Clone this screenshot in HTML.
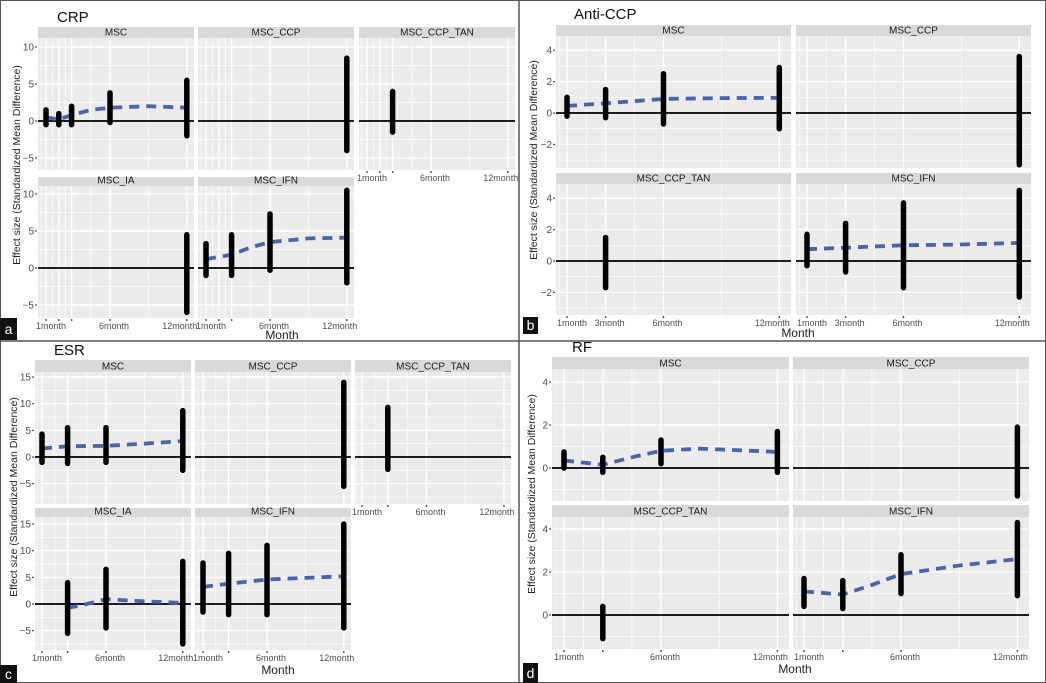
<!DOCTYPE html>
<html><head><meta charset="utf-8"><style>
html,body{margin:0;padding:0;background:#fff;}
svg{display:block;font-family:"Liberation Sans",sans-serif;}
</style></head><body>
<svg id="s" width="1046" height="683" viewBox="0 0 1046 683" xmlns="http://www.w3.org/2000/svg">
<rect x="0.5" y="0.5" width="1045" height="682" fill="#fff" stroke="#555" stroke-width="1"/>
<line x1="519" y1="0" x2="519" y2="683" stroke="#555" stroke-width="1.5"/>
<line x1="0" y1="341" x2="1046" y2="341" stroke="#555" stroke-width="1.5"/>
<text x="57" y="22" font-size="15" fill="#111">CRP</text>
<text x="574" y="19" font-size="15" fill="#111">Anti-CCP</text>
<text x="54" y="355" font-size="15" fill="#111">ESR</text>
<text x="572" y="352" font-size="15" fill="#111">RF</text>
<text transform="translate(20,165) rotate(-90)" text-anchor="middle" font-size="10.5" fill="#222">Effect size (Standardized Mean Difference)</text>
<text transform="translate(537,160) rotate(-90)" text-anchor="middle" font-size="10.5" fill="#222">Effect size (Standardized Mean Difference)</text>
<text transform="translate(17,497) rotate(-90)" text-anchor="middle" font-size="10.5" fill="#222">Effect size (Standardized Mean Difference)</text>
<text transform="translate(535,494) rotate(-90)" text-anchor="middle" font-size="10.5" fill="#222">Effect size (Standardized Mean Difference)</text>
<text x="282" y="339" text-anchor="middle" font-size="12" fill="#222">Month</text>
<text x="798" y="337" text-anchor="middle" font-size="12" fill="#222">Month</text>
<text x="278" y="674" text-anchor="middle" font-size="12" fill="#222">Month</text>
<text x="795" y="673" text-anchor="middle" font-size="12" fill="#222">Month</text>
<rect x="0" y="318" width="17" height="22" fill="#111"/><text x="8.5" y="334" text-anchor="middle" font-size="14" fill="#fff">a</text>
<rect x="523" y="317" width="15" height="17" fill="#111"/><text x="530.5" y="330" text-anchor="middle" font-size="14" fill="#fff">b</text>
<rect x="0" y="665" width="17" height="18" fill="#111"/><text x="8.5" y="679" text-anchor="middle" font-size="14" fill="#fff">c</text>
<rect x="523" y="663" width="15" height="20" fill="#111"/><text x="530.5" y="678" text-anchor="middle" font-size="14" fill="#fff">d</text>
<g id="g"></g>
</svg>
<script>
var NS="http://www.w3.org/2000/svg",G=document.getElementById("g");
function el(t,a,txt){var e=document.createElementNS(NS,t);for(var k in a)e.setAttribute(k,a[k]);if(txt!==undefined)e.textContent=txt;G.appendChild(e);return e;}
function panel(p){
  var px=function(m){return p.xa+(m-1)*p.xs;},py=function(v){return p.ya-v*p.ys;};
  el("rect",{x:p.x0,y:p.sy,width:p.x1-p.x0,height:p.y0-p.sy,fill:"#d9d9d9"});
  el("text",{x:(p.x0+p.x1)/2,y:p.y0-2.5,"text-anchor":"middle","font-size":"10","fill":"#1a1a1a"},p.name);
  el("rect",{x:p.x0,y:p.y0,width:p.x1-p.x0,height:p.y1-p.y0,fill:"#ebebeb"});
  var yt=p.yt,step=yt[1]-yt[0];
  for(var v=yt[0]-step*2;v<=yt[yt.length-1]+step*2;v+=step/2){var y=py(v);if(y<p.y0||y>p.y1)continue;
    var maj=Math.abs((v-yt[0])/step-Math.round((v-yt[0])/step))<0.01;
    el("line",{x1:p.x0,x2:p.x1,y1:y,y2:y,stroke:"#fff","stroke-width":maj?1.3:0.7});}
  var xt=p.xt,xm=[];
  for(var i=0;i<xt.length-1;i++)xm.push((xt[i]+xt[i+1])/2);
  xm.push(xt[0]-0.4);
  xm.forEach(function(m){var x=px(m);if(x>p.x0&&x<p.x1)el("line",{x1:x,x2:x,y1:p.y0,y2:p.y1,stroke:"#fff","stroke-width":0.7});});
  xt.forEach(function(m){var x=px(m);el("line",{x1:x,x2:x,y1:p.y0,y2:p.y1,stroke:"#fff","stroke-width":1.3});});
  el("line",{x1:p.x0,x2:p.x1,y1:py(0),y2:py(0),stroke:"#000","stroke-width":1.8});
  if(p.line){var d="";p.line.forEach(function(q,i){d+=(i?"L":"M")+px(q[0]).toFixed(1)+","+py(q[1]).toFixed(1);});
    el("path",{d:d,fill:"none",stroke:"#4466b0","stroke-width":3.8,"stroke-dasharray":"10,7"});}
  (p.bars||[]).forEach(function(b){el("line",{x1:px(b[0]),x2:px(b[0]),y1:py(b[1]),y2:py(b[2]),stroke:"#000","stroke-width":5.5,"stroke-linecap":"round"});});
  if(p.showY){yt.forEach(function(v){var y=py(v);if(y<p.y0||y>p.y1)return;
    el("text",{x:p.x0-4,y:y+3.5,"text-anchor":"end","font-size":"10",fill:"#4d4d4d"},v<0?"\u2212"+(-v):""+v);
    el("line",{x1:p.x0-3,x2:p.x0-1,y1:y,y2:y,stroke:"#4d4d4d","stroke-width":1.2});});}
  if(p.showX){xt.forEach(function(m){var x=px(m);el("line",{x1:x,x2:x,y1:p.y1+1,y2:p.y1+3,stroke:"#4d4d4d","stroke-width":1.4});});
    (p.xl||[]).forEach(function(l){var x=px(l[0]);var off=l[0]==12?-7:(l[0]==1?5:4);
      el("text",{x:x+off,y:p.y1+11,"text-anchor":"middle","font-size":"9","fill":"#4d4d4d"},l[1]);});}
}
var xlA=[[1,"1month"],[6,"6month"],[12,"12month"]],xlB=[[1,"1month"],[3,"3month"],[6,"6month"],[12,"12month"]];
var A={xs:12.8,yt:[-5,0,5,10],ys:7.4,xt:[1,2,3,6,12],xl:xlA};
function mk(base,o){var r={};for(var k in base)r[k]=base[k];for(var k in o)r[k]=o[k];return r;}
panel(mk(A,{name:"MSC",x0:38,x1:194,sy:27,y0:38,y1:170,xa:46,ya:121,showY:1,
 bars:[[1,-0.5,1.5],[2,-0.5,1],[3,-0.5,2],[6,-0.2,3.8],[12,-2,5.5]],
 line:[[1,0.5],[2,0.2],[3,0.8],[4.5,1.5],[6,1.8],[9,2],[12,1.8]]}));
panel(mk(A,{name:"MSC_CCP",x0:198,x1:354,sy:27,y0:38,y1:170,xa:206,ya:121,bars:[[12,-4,8.5]]}));
panel(mk(A,{name:"MSC_CCP_TAN",x0:359,x1:515,sy:27,y0:38,y1:170,xa:367,ya:121,bars:[[3,-1.5,4]],showX:1}));
panel(mk(A,{name:"MSC_IA",x0:38,x1:194,sy:177,y0:186,y1:318,xa:46,ya:268,showY:1,showX:1,bars:[[12,-6,4.5]]}));
panel(mk(A,{name:"MSC_IFN",x0:198,x1:354,sy:177,y0:186,y1:318,xa:206,ya:268,showX:1,
 bars:[[1,-1,3.3],[3,-1,4.5],[6,-0.3,7.3],[12,-2,10.5]],
 line:[[1,1.2],[2,1.5],[3,1.8],[4.5,2.8],[6,3.5],[9,4],[12,4.1]]}));
var B={xs:19.3,yt:[-2,0,2,4],ys:15.7,xt:[1,3,6,12],xl:xlB};
panel(mk(B,{name:"MSC",x0:556,x1:791,sy:25,y0:36,y1:168,xa:567,ya:113,showY:1,
 bars:[[1,-0.2,1],[3,-0.3,1.5],[6,-0.7,2.5],[12,-1,2.9]],
 line:[[1,0.45],[3,0.62],[5,0.8],[6,0.9],[9,0.95],[12,0.97]]}));
panel(mk(B,{name:"MSC_CCP",x0:796,x1:1031,sy:25,y0:36,y1:168,xa:807,ya:113,bars:[[12,-3.3,3.6]]}));
panel(mk(B,{name:"MSC_CCP_TAN",x0:556,x1:791,sy:173,y0:184,y1:315,xa:567,ya:261,showY:1,showX:1,bars:[[3,-1.7,1.5]]}));
panel(mk(B,{name:"MSC_IFN",x0:796,x1:1031,sy:173,y0:184,y1:315,xa:807,ya:261,showX:1,
 bars:[[1,-0.3,1.7],[3,-0.7,2.4],[6,-1.7,3.7],[12,-2.3,4.5]],
 line:[[1,0.75],[3,0.85],[6,1],[9,1.05],[12,1.15]]}));
var C={xs:12.8,yt:[-5,0,5,10,15],ys:5.33,xt:[1,3,6,12],xl:xlA};
panel(mk(C,{name:"MSC",x0:35,x1:191,sy:360,y0:372,y1:504,xa:42,ya:457,showY:1,
 bars:[[1,-1,4.3],[3,-1.2,5.5],[6,-1,5.5],[12,-2.5,8.7]],
 line:[[1,1.6],[3,2],[6,2.1],[9,2.5],[12,3]]}));
panel(mk(C,{name:"MSC_CCP",x0:195,x1:351,sy:360,y0:372,y1:504,xa:203,ya:457,bars:[[12,-5.5,14]]}));
panel(mk(C,{name:"MSC_CCP_TAN",x0:355,x1:511,sy:360,y0:372,y1:504,xa:362,xs:12.9,ya:457,bars:[[3,-2.3,9.3]],showX:1}));
panel(mk(C,{name:"MSC_IA",x0:35,x1:191,sy:508,y0:517,y1:650,xa:42,ya:604,showY:1,showX:1,
 bars:[[3,-5.5,4],[6,-4.5,6.5],[12,-7.5,8]],
 line:[[3,-0.7],[4,-0.3],[6,0.9],[9,0.5],[12,0.2]]}));
panel(mk(C,{name:"MSC_IFN",x0:195,x1:351,sy:508,y0:517,y1:650,xa:203,ya:604,showX:1,
 bars:[[1,-1.5,7.7],[3,-2,9.5],[6,-2,11],[12,-4.5,15]],
 line:[[1,3.2],[3,3.8],[6,4.6],[9,4.9],[12,5.2]]}));
var D={xs:19.4,yt:[0,2,4],ys:21.5,xt:[1,3,6,12],xl:xlA};
panel(mk(D,{name:"MSC",x0:552,x1:789,sy:357,y0:369,y1:501,xa:564,ya:468,showY:1,
 bars:[[1,0,0.75],[3,-0.2,0.5],[6,0.2,1.3],[12,-0.2,1.7]],
 line:[[1,0.35],[2,0.25],[3,0.15],[4.5,0.5],[6,0.8],[8,0.9],[12,0.75]]}));
panel(mk(D,{name:"MSC_CCP",x0:793,x1:1029,sy:357,y0:369,y1:501,xa:804,ya:468,bars:[[12,-1.3,1.9]]}));
panel(mk(D,{name:"MSC_CCP_TAN",x0:552,x1:789,sy:505,y0:517,y1:649,xa:564,ya:615,showY:1,showX:1,bars:[[3,-1.1,0.4]]}));
panel(mk(D,{name:"MSC_IFN",x0:793,x1:1029,sy:505,y0:517,y1:649,xa:804,ya:615,showX:1,
 bars:[[1,0.4,1.7],[3,0.3,1.6],[6,1,2.8],[12,0.9,4.3]],
 line:[[1,1.1],[3,0.95],[4.5,1.4],[6,1.9],[9,2.3],[12,2.6]]}));
</script>
</body></html>
